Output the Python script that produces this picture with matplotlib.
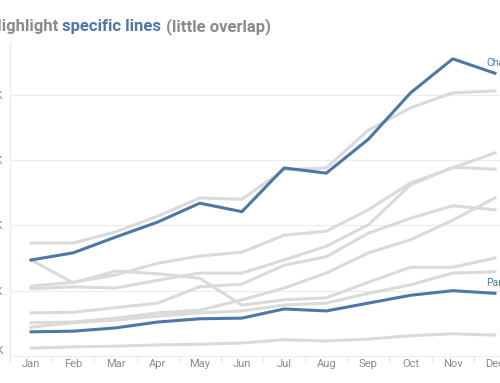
import matplotlib
matplotlib.use("Agg")
import matplotlib.pyplot as plt
import numpy as np

months = ["Jan", "Feb", "Mar", "Apr", "May", "Jun", "Jul", "Aug", "Sep", "Oct", "Nov", "Dec"]

# values in thousands
charlie = [24.7, 25.8, 28.2, 30.5, 33.4, 32.1, 38.8, 38.0, 43.2, 50.3, 55.5, 53.3]
paris = [13.7, 13.8, 14.3, 15.2, 15.7, 15.8, 17.2, 16.9, 18.1, 19.3, 20.0, 19.6]
gray_a = [27.3, 27.3, 29.0, 31.4, 34.2, 34.0, 38.5, 38.8, 44.6, 48.0, 50.3, 50.6]
gray_b = [24.7, 21.2, 23.0, 22.6, 21.9, 17.8, 18.6, 18.9, 21.3, 23.6, 23.6, 25.0]
gray_c = [20.7, 21.3, 22.4, 24.2, 25.3, 25.9, 28.5, 29.1, 32.4, 36.5, 38.8, 41.1]
gray_d = [20.3, 20.6, 20.4, 21.6, 22.7, 22.7, 24.7, 26.8, 30.1, 36.2, 38.9, 38.6]
gray_e = [16.6, 16.7, 17.4, 18.1, 20.6, 21.0, 23.9, 25.2, 28.8, 31.1, 33.0, 32.4]
gray_f = [15.1, 15.2, 15.8, 16.6, 17.0, 18.6, 20.4, 22.7, 25.8, 27.8, 30.8, 34.2]
gray_g = [14.4, 15.1, 15.5, 16.1, 16.6, 16.9, 17.8, 18.1, 19.6, 20.9, 22.7, 22.9]
gray_h = [11.2, 11.4, 11.5, 11.7, 11.8, 12.0, 12.5, 12.3, 12.6, 13.1, 13.4, 13.2]

gray_series = [gray_a, gray_b, gray_c, gray_d, gray_e, gray_f, gray_g, gray_h]
highlight = {"Charlie": charlie, "Paris": paris}

y_ticks = [10, 20, 30, 40, 50]
y_tick_labels = ["10K", "20K", "30K", "40K", "50K"]

BLUE = "#4c78a8"
GRAY_LINE = "#dadada"
TEXT_GRAY = "#8a8a8a"
FONT = "Roboto"

fig = plt.figure(figsize=(5.0, 3.83), dpi=100)
ax = fig.add_axes([10 / 500, 27 / 383, 506 / 500, 313 / 383])

x = np.arange(len(months))
for s in gray_series:
    ax.plot(x, s, color=GRAY_LINE, lw=2.2, solid_joinstyle="round", zorder=2)
for name, s in highlight.items():
    ax.plot(x, s, color=BLUE, lw=2.2, solid_joinstyle="round", zorder=3)
    ax.annotate(name, xy=(x[-1], s[-1]), xytext=(-6, 4), textcoords="offset points",
                color=BLUE, fontsize=7.5, family=FONT, ha="left", va="bottom",
                annotation_clip=False)

ax.set_xlim(-0.5, 11.5)
ax.set_ylim(10, 57.93)

ax.set_xticks(x)
ax.set_xticklabels(months)
ax.set_xticks(np.arange(-0.5, 12, 1), minor=True)
ax.tick_params(axis="x", which="major", length=0, pad=2, labelsize=8, labelcolor=TEXT_GRAY)
ax.tick_params(axis="x", which="minor", length=4, width=0.8, color="#e6e6e6")

ax.set_yticks(y_ticks)
ax.set_yticklabels(y_tick_labels)
ax.tick_params(axis="y", length=0, pad=5, labelsize=8, labelcolor=TEXT_GRAY)
for lbl in ax.get_yticklabels() + ax.get_xticklabels():
    lbl.set_family(FONT)
ax.get_yticklabels()[0].set_verticalalignment("bottom")

ax.grid(axis="y", color="#ececec", lw=0.8)
ax.set_axisbelow(True)
for side in ["top", "right"]:
    ax.spines[side].set_visible(False)
ax.spines["left"].set_color("#ececec")
ax.spines["bottom"].set_color("#ececec")
ax.spines["left"].set_linewidth(0.8)
ax.spines["bottom"].set_linewidth(0.8)

# multi-coloured title
renderer = fig.canvas.get_renderer()
parts = [("Highlight ", TEXT_GRAY), ("specific lines", BLUE), (" (little overlap)", TEXT_GRAY)]
xpos = -10 / 500
ypos = 352 / 383
for txt, col in parts:
    t = fig.text(xpos, ypos, txt, color=col, fontsize=12, fontweight="bold", family=FONT,
                 ha="left", va="baseline")
    bb = t.get_window_extent(renderer=renderer)
    xpos = xpos + bb.width / fig.bbox.width

fig.savefig("out.png", dpi=100)
